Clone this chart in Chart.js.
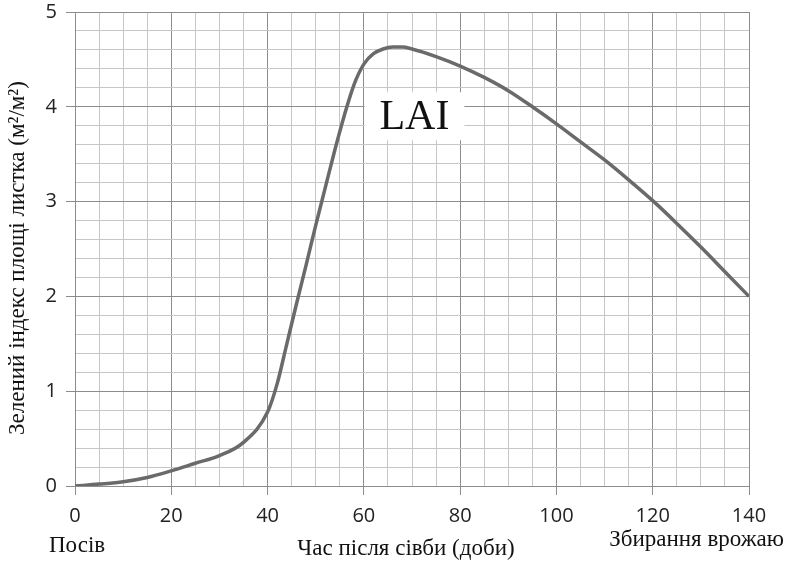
<!DOCTYPE html>
<html>
<head>
<meta charset="utf-8">
<script src="https://cdn.jsdelivr.net/npm/chart.js@4/dist/chart.umd.min.js"></script>
<style>
  html, body { margin: 0; padding: 0; background: #fff; }
  #wrap { width: 788px; height: 564px; }
</style>
</head>
<body>
<div id="wrap"><canvas id="lai"></canvas></div>
<script>
const days = [0, 5, 10, 15, 20, 25, 30, 35, 40, 42, 44, 46, 48, 50, 52, 54, 56, 58, 60, 62, 64, 66, 68, 70,
  75, 80, 85, 90, 95, 100, 105, 110, 115, 120, 125, 130, 135, 140];
const laiValues = [0, 0.02, 0.045, 0.09, 0.16, 0.24, 0.32, 0.46, 0.78, 1.08, 1.5, 1.92, 2.33, 2.75, 3.15, 3.55, 3.92,
  4.24, 4.45, 4.56, 4.61, 4.63, 4.63, 4.61, 4.53, 4.43, 4.31, 4.17, 4.0, 3.82, 3.63, 3.44, 3.23, 3.01, 2.77, 2.52, 2.26, 2.0];
const xTickLabels = [0, 20, 40, 60, 80, 100, 120, 140];
const yTickLabels = [0, 1, 2, 3, 4, 5];

const majorGrid = '#8c8c8c';
const minorGrid = '#c6c6c6';
const tickFont = { family: "Open Sans", size: 20 };
const serif = '23px "Liberation Serif"';

const isMajorX = (v) => xTickLabels.includes(Math.round(v)) && Math.abs(v - Math.round(v)) < 1e-6;
const isMajorY = (v) => yTickLabels.includes(Math.round(v)) && Math.abs(v - Math.round(v)) < 1e-6;

// labels drawn by hand: curve name, axis captions
const textPlugin = {
  id: 'texts',
  afterDatasetsDraw(chart) {
    const { ctx, scales } = chart;
    const cx = scales.x.getPixelForValue(70.5);
    const cy = scales.y.getPixelForValue(3.9);
    ctx.save();
    ctx.fillStyle = '#fff';
    ctx.fillRect(cx - 50, cy - 24, 100, 48);
    ctx.fillStyle = '#111';
    ctx.font = '42px "Liberation Serif"';
    ctx.textAlign = 'center';
    ctx.textBaseline = 'middle';
    ctx.fillText('LAI', cx, cy + 2);
    ctx.restore();
  },
  afterDraw(chart) {
    const { ctx } = chart;
    ctx.save();
    ctx.fillStyle = '#111';
    ctx.font = serif;
    ctx.textBaseline = 'middle';
    ctx.textAlign = 'left';
    ctx.fillText('Посів', 49, 546);
    ctx.textAlign = 'center';
    ctx.fillText('Час після сівби (доби)', 406, 549);
    ctx.textAlign = 'right';
    ctx.fillText('Збирання врожаю', 784, 540);
    ctx.translate(18, 258);
    ctx.rotate(-Math.PI / 2);
    ctx.textAlign = 'center';
    ctx.fillText('Зелений індекс площі листка (м²/м²)', 0, 0);
    ctx.restore();
  }
};

new Chart(document.getElementById('lai'), {
  type: 'line',
  data: {
    datasets: [{
      label: 'LAI',
      data: days.map((d, i) => ({ x: d, y: laiValues[i] })),
      borderColor: '#6a6a6a',
      borderWidth: 3.5,
      pointRadius: 0,
      fill: false,
      cubicInterpolationMode: 'monotone',
    }],
  },
  options: {
    responsive: true,
    maintainAspectRatio: false,
    animation: false,
    layout: { padding: { top: 12, right: 39, left: 0, bottom: 0 } },
    plugins: {
      legend: { display: false },
      tooltip: { enabled: false },
    },
    scales: {
      x: {
        type: 'linear',
        min: 0,
        max: 140,
        afterFit: (s) => { s.height = 78; s.paddingLeft = 0; s.paddingRight = 0; },
        ticks: {
          stepSize: 5,
          autoSkip: false,
          maxRotation: 0,
          padding: 9,
          color: '#222',
          font: tickFont,
          callback: (v) => (isMajorX(v) ? String(Math.round(v)) : ''),
        },
        grid: {
          color: (c) => (isMajorX(c.tick.value) ? majorGrid : minorGrid),
          tickColor: (c) => (isMajorX(c.tick.value) ? majorGrid : 'rgba(0,0,0,0)'),
          tickLength: 9,
          lineWidth: 1,
        },
        border: { color: majorGrid },
      },
      y: {
        min: 0,
        max: 5,
        afterFit: (s) => { s.width = 75; s.paddingTop = 0; s.paddingBottom = 0; },
        ticks: {
          stepSize: 0.2,
          autoSkip: false,
          padding: 9,
          color: '#222',
          font: tickFont,
          callback: (v) => (isMajorY(v) ? String(Math.round(v)) : ''),
        },
        grid: {
          color: (c) => (isMajorY(c.tick.value) ? majorGrid : minorGrid),
          tickColor: (c) => (isMajorY(c.tick.value) ? majorGrid : 'rgba(0,0,0,0)'),
          tickLength: 9,
          lineWidth: 1,
        },
        border: { color: majorGrid },
      },
    },
  },
  plugins: [textPlugin],
});
</script>
</body>
</html>
